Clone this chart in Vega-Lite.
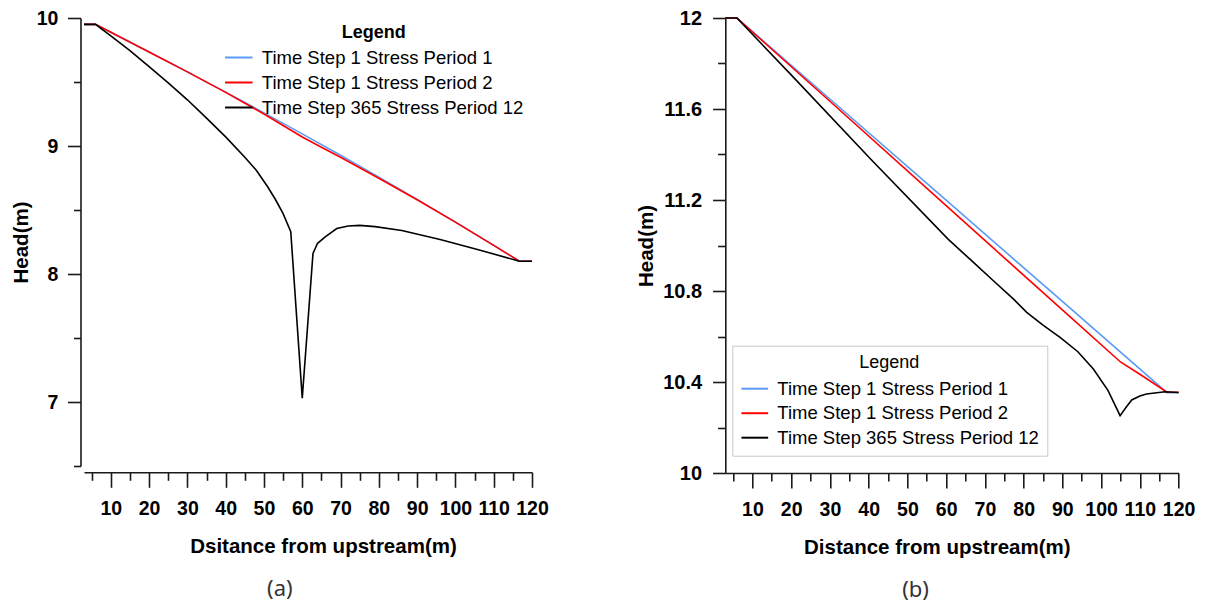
{
  "$schema": "https://vega.github.io/schema/vega-lite/v6.json",
  "background": "white",
  "padding": {"left": 11, "top": 8, "right": 0, "bottom": 0},
  "bounds": "flush",
  "spacing": 193.3,
  "config": {
    "view": {"stroke": null},
    "font": "Liberation Sans",
    "axis": {
      "grid": false,
      "domainColor": "#1a1a1a",
      "domainWidth": 1.6,
      "tickColor": "#1a1a1a",
      "tickWidth": 1.6,
      "labelFont": "Liberation Sans",
      "labelFontWeight": "bold",
      "labelFontSize": 19.5,
      "labelColor": "#000000",
      "labelFlush": false,
      "labelOverlap": false,
      "titleFont": "Liberation Sans",
      "titleFontWeight": "bold",
      "titleFontSize": 20.5,
      "titleColor": "#000000"
    },
    "legend": {
      "labelFont": "Liberation Sans",
      "labelFontSize": 18.5,
      "labelColor": "#000000",
      "labelLimit": 400,
      "titleFont": "Liberation Sans",
      "titleFontSize": 18,
      "titleColor": "#000000",
      "titleAnchor": "middle",
      "symbolType": "stroke",
      "symbolStrokeWidth": 2
    }
  },
  "datasets": {
    "a": [
      {"series": "Time Step 1 Stress Period 1", "x": 3, "head": 9.95},
      {"series": "Time Step 1 Stress Period 1", "x": 6, "head": 9.95},
      {"series": "Time Step 1 Stress Period 1", "x": 10, "head": 9.889},
      {"series": "Time Step 1 Stress Period 1", "x": 20, "head": 9.735},
      {"series": "Time Step 1 Stress Period 1", "x": 30, "head": 9.579},
      {"series": "Time Step 1 Stress Period 1", "x": 40, "head": 9.421},
      {"series": "Time Step 1 Stress Period 1", "x": 50, "head": 9.259},
      {"series": "Time Step 1 Stress Period 1", "x": 60, "head": 9.095},
      {"series": "Time Step 1 Stress Period 1", "x": 70, "head": 8.928},
      {"series": "Time Step 1 Stress Period 1", "x": 80, "head": 8.757},
      {"series": "Time Step 1 Stress Period 1", "x": 90, "head": 8.583},
      {"series": "Time Step 1 Stress Period 1", "x": 100, "head": 8.405},
      {"series": "Time Step 1 Stress Period 1", "x": 110, "head": 8.224},
      {"series": "Time Step 1 Stress Period 1", "x": 116.7, "head": 8.1},
      {"series": "Time Step 1 Stress Period 1", "x": 120, "head": 8.1},
      {"series": "Time Step 1 Stress Period 2", "x": 3, "head": 9.95},
      {"series": "Time Step 1 Stress Period 2", "x": 6, "head": 9.95},
      {"series": "Time Step 1 Stress Period 2", "x": 10, "head": 9.889},
      {"series": "Time Step 1 Stress Period 2", "x": 20, "head": 9.735},
      {"series": "Time Step 1 Stress Period 2", "x": 30, "head": 9.579},
      {"series": "Time Step 1 Stress Period 2", "x": 40, "head": 9.419},
      {"series": "Time Step 1 Stress Period 2", "x": 50, "head": 9.25},
      {"series": "Time Step 1 Stress Period 2", "x": 55, "head": 9.16},
      {"series": "Time Step 1 Stress Period 2", "x": 60, "head": 9.07},
      {"series": "Time Step 1 Stress Period 2", "x": 65, "head": 8.99},
      {"series": "Time Step 1 Stress Period 2", "x": 70, "head": 8.912},
      {"series": "Time Step 1 Stress Period 2", "x": 80, "head": 8.748},
      {"series": "Time Step 1 Stress Period 2", "x": 90, "head": 8.58},
      {"series": "Time Step 1 Stress Period 2", "x": 100, "head": 8.405},
      {"series": "Time Step 1 Stress Period 2", "x": 110, "head": 8.224},
      {"series": "Time Step 1 Stress Period 2", "x": 116.7, "head": 8.1},
      {"series": "Time Step 1 Stress Period 2", "x": 120, "head": 8.1},
      {"series": "Time Step 365 Stress Period 12", "x": 3, "head": 9.95},
      {"series": "Time Step 365 Stress Period 12", "x": 6, "head": 9.95},
      {"series": "Time Step 365 Stress Period 12", "x": 10, "head": 9.86},
      {"series": "Time Step 365 Stress Period 12", "x": 15, "head": 9.745},
      {"series": "Time Step 365 Stress Period 12", "x": 20, "head": 9.62},
      {"series": "Time Step 365 Stress Period 12", "x": 25, "head": 9.493},
      {"series": "Time Step 365 Stress Period 12", "x": 30, "head": 9.361},
      {"series": "Time Step 365 Stress Period 12", "x": 35, "head": 9.218},
      {"series": "Time Step 365 Stress Period 12", "x": 40, "head": 9.071},
      {"series": "Time Step 365 Stress Period 12", "x": 45, "head": 8.912},
      {"series": "Time Step 365 Stress Period 12", "x": 48, "head": 8.81},
      {"series": "Time Step 365 Stress Period 12", "x": 51, "head": 8.68},
      {"series": "Time Step 365 Stress Period 12", "x": 53, "head": 8.582},
      {"series": "Time Step 365 Stress Period 12", "x": 55, "head": 8.472},
      {"series": "Time Step 365 Stress Period 12", "x": 57, "head": 8.33},
      {"series": "Time Step 365 Stress Period 12", "x": 60, "head": 7.03},
      {"series": "Time Step 365 Stress Period 12", "x": 62.8, "head": 8.16},
      {"series": "Time Step 365 Stress Period 12", "x": 64, "head": 8.24},
      {"series": "Time Step 365 Stress Period 12", "x": 66, "head": 8.29},
      {"series": "Time Step 365 Stress Period 12", "x": 69, "head": 8.355},
      {"series": "Time Step 365 Stress Period 12", "x": 72, "head": 8.375},
      {"series": "Time Step 365 Stress Period 12", "x": 75, "head": 8.38},
      {"series": "Time Step 365 Stress Period 12", "x": 79, "head": 8.37},
      {"series": "Time Step 365 Stress Period 12", "x": 86, "head": 8.34},
      {"series": "Time Step 365 Stress Period 12", "x": 96, "head": 8.27},
      {"series": "Time Step 365 Stress Period 12", "x": 106, "head": 8.19},
      {"series": "Time Step 365 Stress Period 12", "x": 116.7, "head": 8.1},
      {"series": "Time Step 365 Stress Period 12", "x": 120, "head": 8.1}
    ],
    "b": [
      {"series": "Time Step 1 Stress Period 1", "x": 3, "head": 12},
      {"series": "Time Step 1 Stress Period 1", "x": 6, "head": 12},
      {"series": "Time Step 1 Stress Period 1", "x": 30, "head": 11.644},
      {"series": "Time Step 1 Stress Period 1", "x": 60, "head": 11.199},
      {"series": "Time Step 1 Stress Period 1", "x": 90, "head": 10.754},
      {"series": "Time Step 1 Stress Period 1", "x": 117, "head": 10.353},
      {"series": "Time Step 1 Stress Period 1", "x": 120, "head": 10.353},
      {"series": "Time Step 1 Stress Period 2", "x": 3, "head": 12},
      {"series": "Time Step 1 Stress Period 2", "x": 6, "head": 12},
      {"series": "Time Step 1 Stress Period 2", "x": 30, "head": 11.634},
      {"series": "Time Step 1 Stress Period 2", "x": 60, "head": 11.175},
      {"series": "Time Step 1 Stress Period 2", "x": 90, "head": 10.717},
      {"series": "Time Step 1 Stress Period 2", "x": 105, "head": 10.488},
      {"series": "Time Step 1 Stress Period 2", "x": 110, "head": 10.434},
      {"series": "Time Step 1 Stress Period 2", "x": 117, "head": 10.355},
      {"series": "Time Step 1 Stress Period 2", "x": 120, "head": 10.355},
      {"series": "Time Step 365 Stress Period 12", "x": 3, "head": 12},
      {"series": "Time Step 365 Stress Period 12", "x": 6, "head": 12},
      {"series": "Time Step 365 Stress Period 12", "x": 20, "head": 11.75},
      {"series": "Time Step 365 Stress Period 12", "x": 40.5, "head": 11.38},
      {"series": "Time Step 365 Stress Period 12", "x": 60.5, "head": 11.028},
      {"series": "Time Step 365 Stress Period 12", "x": 66, "head": 10.942},
      {"series": "Time Step 365 Stress Period 12", "x": 72.2, "head": 10.845},
      {"series": "Time Step 365 Stress Period 12", "x": 77.4, "head": 10.764},
      {"series": "Time Step 365 Stress Period 12", "x": 80.8, "head": 10.706},
      {"series": "Time Step 365 Stress Period 12", "x": 85, "head": 10.65},
      {"series": "Time Step 365 Stress Period 12", "x": 89.4, "head": 10.596},
      {"series": "Time Step 365 Stress Period 12", "x": 94, "head": 10.533},
      {"series": "Time Step 365 Stress Period 12", "x": 98, "head": 10.457},
      {"series": "Time Step 365 Stress Period 12", "x": 101.8, "head": 10.362},
      {"series": "Time Step 365 Stress Period 12", "x": 104.9, "head": 10.252},
      {"series": "Time Step 365 Stress Period 12", "x": 106.5, "head": 10.29},
      {"series": "Time Step 365 Stress Period 12", "x": 107.9, "head": 10.321},
      {"series": "Time Step 365 Stress Period 12", "x": 110, "head": 10.338},
      {"series": "Time Step 365 Stress Period 12", "x": 111.7, "head": 10.347},
      {"series": "Time Step 365 Stress Period 12", "x": 116.5, "head": 10.357},
      {"series": "Time Step 365 Stress Period 12", "x": 120, "head": 10.354}
    ]
  },
  "resolve": {"scale": {"color": "independent", "x": "independent", "y": "independent"}, "legend": {"color": "independent"}},
  "hconcat": [
    {
      "width": 448,
      "height": 448,
      "data": {"name": "a"},
      "title": {"text": "(a)", "orient": "bottom", "anchor": "middle", "frame": "bounds", "font": "Noto Sans", "fontSize": 22, "fontWeight": "normal", "color": "#333333", "offset": 22},
      "mark": {"type": "line", "strokeWidth": 1.6},
      "encoding": {
        "x": {
          "field": "x", "type": "quantitative",
          "scale": {"domain": [3, 120], "nice": false, "zero": false},
          "axis": {
            "values": [5, 10, 15, 20, 25, 30, 35, 40, 45, 50, 55, 60, 65, 70, 75, 80, 85, 90, 95, 100, 105, 110, 115, 120],
            "offset": 6.3,
            "tickSize": {"condition": {"test": "datum.value % 10 === 0", "value": 15}, "value": 8},
            "labelExpr": "datum.value % 10 === 0 ? datum.label : ''",
            "format": "~g",
            "labelPadding": 12,
            "title": "Dsitance from upstream(m)",
            "titleX": 239,
            "titleY": 74,
            "titleBaseline": "middle"
          }
        },
        "y": {
          "field": "head", "type": "quantitative",
          "scale": {"domain": [6.5, 10], "nice": false, "zero": false},
          "axis": {
            "values": [6.5, 7, 7.5, 8, 8.5, 9, 9.5, 10],
            "offset": 3.5,
            "tickSize": {"condition": {"test": "datum.value % 1 === 0", "value": 13}, "value": 7},
            "labelExpr": "datum.value % 1 === 0 ? datum.label : ''",
            "format": "~g",
            "labelPadding": 9.6,
            "title": "Head(m)",
            "titleX": -59,
            "titleY": 224,
            "titleBaseline": "middle"
          }
        },
        "color": {
          "field": "series", "type": "nominal",
          "scale": {"domain": ["Time Step 1 Stress Period 1", "Time Step 1 Stress Period 2", "Time Step 365 Stress Period 12"], "range": ["#5b9bf5", "#ff0000", "#000000"]},
          "legend": {
            "orient": "none", "legendX": 139.8, "legendY": 6,
            "title": "Legend", "titleFontWeight": "bold", "titlePadding": 0.5,
            "symbolSize": 756, "labelOffset": 8, "rowPadding": 0, "padding": 0
          }
        }
      }
    },
    {
      "width": 453.3,
      "height": 455,
      "data": {"name": "b"},
      "title": {"text": "(b)", "orient": "bottom", "anchor": "middle", "frame": "bounds", "font": "Noto Sans", "fontSize": 22, "fontWeight": "normal", "color": "#333333", "offset": 22},
      "mark": {"type": "line", "strokeWidth": 1.6},
      "encoding": {
        "x": {
          "field": "x", "type": "quantitative",
          "scale": {"domain": [3, 120], "nice": false, "zero": false},
          "axis": {
            "values": [5, 10, 15, 20, 25, 30, 35, 40, 45, 50, 55, 60, 65, 70, 75, 80, 85, 90, 95, 100, 105, 110, 115, 120],
            "tickSize": {"condition": {"test": "datum.value % 10 === 0", "value": 15}, "value": 8},
            "labelExpr": "datum.value % 10 === 0 ? datum.label : ''",
            "format": "~g",
            "labelPadding": 12,
            "title": "Distance from upstream(m)",
            "titleX": 211.5,
            "titleY": 74,
            "titleBaseline": "middle"
          }
        },
        "y": {
          "field": "head", "type": "quantitative",
          "scale": {"domain": [10, 12], "nice": false, "zero": false},
          "axis": {
            "values": [10, 10.2, 10.4, 10.6, 10.8, 11, 11.2, 11.4, 11.6, 11.8, 12],
            "tickSize": {"condition": {"test": "abs(round(datum.value * 10)) % 4 === 0", "value": 12.7}, "value": 7.7},
            "labelExpr": "abs(round(datum.value * 10)) % 4 === 0 ? datum.label : ''",
            "format": "~g",
            "labelFontSize": 20,
            "labelPadding": 11,
            "title": "Head(m)",
            "titleX": -79,
            "titleY": 227.5,
            "titleBaseline": "middle"
          }
        },
        "color": {
          "field": "series", "type": "nominal",
          "scale": {"domain": ["Time Step 1 Stress Period 1", "Time Step 1 Stress Period 2", "Time Step 365 Stress Period 12"], "range": ["#5b9bf5", "#ff0000", "#000000"]},
          "legend": {
            "orient": "none", "legendX": 7, "legendY": 327.7,
            "title": "Legend", "titleFontWeight": "normal", "titlePadding": 2.5,
            "symbolSize": 713, "labelOffset": 8, "rowPadding": 0.5, "padding": 8,
            "strokeColor": "#c8c8c8"
          }
        }
      }
    }
  ]
}
